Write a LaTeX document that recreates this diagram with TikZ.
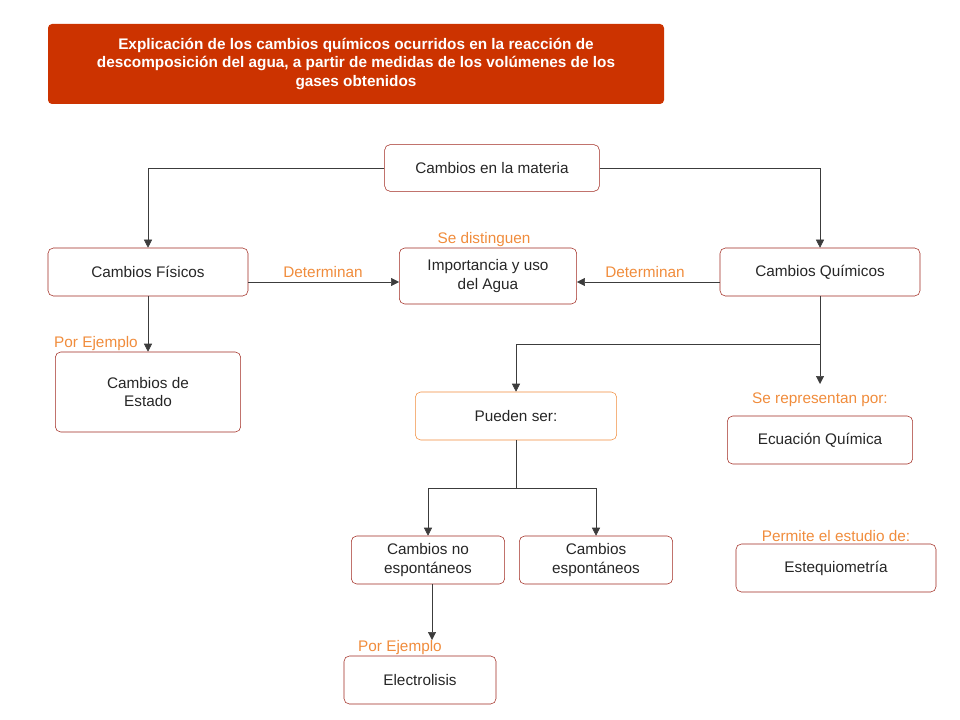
\documentclass[tikz,border=0pt]{standalone}
\usepackage{fontspec}
\setmainfont{Liberation Sans}
\usetikzlibrary{arrows.meta}
\definecolor{boxred}{RGB}{160,40,30}
\definecolor{titlered}{RGB}{204,51,0}
\definecolor{lblor}{RGB}{240,140,60}
\definecolor{lnk}{RGB}{60,60,60}
\begin{document}
\begin{tikzpicture}[x=0.75pt,y=-0.75pt,
  bx/.style={draw=boxred,rounded corners=4pt,align=center,inner sep=0pt,font=\fontsize{11.5}{14}\selectfont,text=black!85},
  lbl/.style={text=lblor,font=\fontsize{11.5}{14}\selectfont,inner sep=0pt},
  ar/.style={draw=lnk,-{Triangle[length=6pt,width=6pt]}}]
\useasboundingbox (0,0) rectangle (960,720);
\node[fill=titlered,rounded corners=3pt,minimum width=462pt,minimum height=60pt,text=white,font=\bfseries\fontsize{11.5}{14}\selectfont,align=center,inner sep=0pt] (t) at (356,64) {Explicación de los cambios químicos ocurridos en la reacción de\\descomposición del agua, a partir de medidas de los volúmenes de los\\gases obtenidos};
\node[bx,minimum width=161pt,minimum height=35pt] (m) at (492,168) {Cambios en la materia};
\node[bx,minimum width=150pt,minimum height=36pt] (f) at (148,272) {Cambios Físicos};
\node[bx,minimum width=133pt,minimum height=42pt] (i) at (488,276) {Importancia y uso\\del Agua};
\node[bx,minimum width=150pt,minimum height=36pt] (q) at (820,272) {Cambios Químicos};
\node[bx,minimum width=139pt,minimum height=60pt] (e) at (148,392) {Cambios de\\Estado};
\node[bx,draw=lblor,minimum width=151pt,minimum height=36pt] (p) at (516,416) {Pueden ser:};
\node[bx,minimum width=139pt,minimum height=36pt] (ec) at (820,440) {Ecuación Química};
\node[bx,minimum width=115pt,minimum height=36pt] (ne) at (428,560) {Cambios no\\espontáneos};
\node[bx,minimum width=115pt,minimum height=36pt] (es) at (596,560) {Cambios\\espontáneos};
\node[bx,minimum width=150pt,minimum height=36pt] (st) at (836,568) {Estequiometría};
\node[bx,minimum width=114pt,minimum height=36pt] (el) at (420,680) {Electrolisis};
\node[lbl] (l1) at (484,240) {Se distinguen};
\node[lbl] (l2) at (323,272) {Determinan};
\node[lbl] (l3) at (645,272) {Determinan};
\node[lbl] (l4) at (96,344) {Por Ejemplo};
\node[lbl] (l5) at (820,400) {Se representan por:};
\node[lbl] (l6) at (836,536) {Permite el estudio de:};
\node[lbl] (l7) at (400,648) {Por Ejemplo};
\coordinate (c1) at (820,384);
\coordinate (c2) at (432,640);
\draw[ar] (m.west) -| (f.north);
\draw[ar] (m.east) -| (q.north);
\draw[ar] (f.east|-0,282) -- (i.west|-0,282);
\draw[ar] (q.west|-0,282) -- (i.east|-0,282);
\draw[ar] (f.south) -- (e.north);
\draw[ar] (q.south) -- (c1);
\draw[ar] (820,344) -| (p.north);
\draw[ar] (p.south) -- (516,488) -| (ne.north);
\draw[ar] (516,488) -| (es.north);
\draw[ar] (ne.south-|c2) -- (c2);
\end{tikzpicture}
\end{document}
